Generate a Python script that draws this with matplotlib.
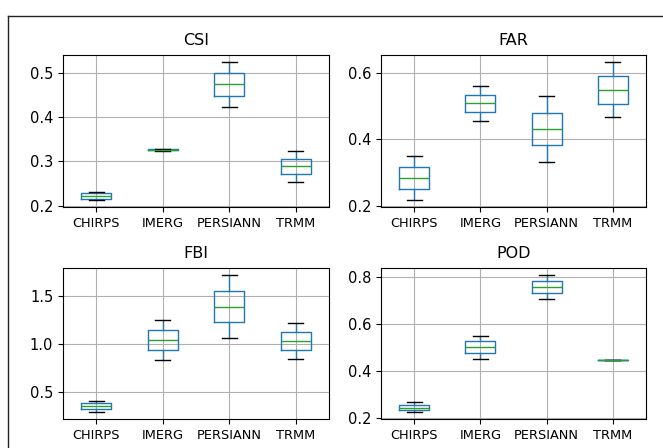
import matplotlib
matplotlib.use("Agg")
import matplotlib.pyplot as plt
from matplotlib.lines import Line2D
from matplotlib.ticker import MultipleLocator

products = ["CHIRPS", "IMERG", "PERSIANN", "TRMM"]
metrics = ["CSI", "FAR", "FBI", "POD"]

# five-number summaries per metric: [CHIRPS, IMERG, PERSIANN, TRMM]
csi_whislo = [0.213, 0.324, 0.4235, 0.254]
csi_q1 = [0.216, 0.325, 0.448, 0.272]
csi_med = [0.2225, 0.326, 0.474, 0.290]
csi_q3 = [0.229, 0.327, 0.499, 0.306]
csi_whishi = [0.232, 0.329, 0.524, 0.324]

far_whislo = [0.218, 0.456, 0.333, 0.466]
far_q1 = [0.251, 0.483, 0.383, 0.507]
far_med = [0.285, 0.509, 0.432, 0.549]
far_q3 = [0.318, 0.534, 0.480, 0.590]
far_whishi = [0.351, 0.560, 0.530, 0.632]

fbi_whislo = [0.289, 0.837, 1.069, 0.848]
fbi_q1 = [0.317, 0.938, 1.230, 0.941]
fbi_med = [0.348, 1.048, 1.393, 1.038]
fbi_q3 = [0.382, 1.152, 1.559, 1.131]
fbi_whishi = [0.410, 1.256, 1.725, 1.225]

pod_whislo = [0.227, 0.454, 0.709, 0.449]
pod_q1 = [0.236, 0.477, 0.734, 0.449]
pod_med = [0.246, 0.503, 0.759, 0.449]
pod_q3 = [0.259, 0.528, 0.783, 0.449]
pod_whishi = [0.269, 0.550, 0.810, 0.449]

summaries = {
    "CSI": (csi_whislo, csi_q1, csi_med, csi_q3, csi_whishi),
    "FAR": (far_whislo, far_q1, far_med, far_q3, far_whishi),
    "FBI": (fbi_whislo, fbi_q1, fbi_med, fbi_q3, fbi_whishi),
    "POD": (pod_whislo, pod_q1, pod_med, pod_q3, pod_whishi),
}
ytick_step = {"CSI": 0.1, "FAR": 0.2, "FBI": 0.5, "POD": 0.2}

W, H = 663, 448
fig = plt.figure(figsize=(W / 100, H / 100), dpi=100)

# axes rectangles in pixels: left, top, right, bottom
rects = {
    "CSI": (63, 55, 329, 207),
    "FAR": (381, 55, 646, 207),
    "FBI": (63, 268, 329, 419),
    "POD": (381, 268, 646, 419),
}

for m in metrics:
    l, t, r, b = rects[m]
    ax = fig.add_axes([l / W, 1 - b / H, (r - l) / W, (b - t) / H])
    lo, q1, med, q3, hi = summaries[m]
    stats = []
    for i, p in enumerate(products):
        stats.append(dict(label=p, whislo=lo[i], q1=q1[i], med=med[i],
                          q3=q3[i], whishi=hi[i], fliers=[]))
    ax.bxp(stats, showfliers=False,
           boxprops=dict(color="C0", linewidth=1.0),
           whiskerprops=dict(color="C0", linewidth=1.0),
           capprops=dict(color="k", linewidth=1.0),
           medianprops=dict(color="C2", linewidth=1.0, zorder=5))
    ax.yaxis.set_major_locator(MultipleLocator(ytick_step[m]))
    ax.grid(True, color="#b0b0b0", linewidth=0.8)
    ax.set_axisbelow(True)
    ax.set_title(m, fontsize=11.5, pad=7)
    ax.tick_params(axis="x", labelsize=9.3)
    ax.tick_params(axis="y", labelsize=10.5)

# figure border (partially cropped frame)
fig.add_artist(Line2D([8 / W, 8 / W], [0, 1 - 16 / H], transform=fig.transFigure,
                      color="#222222", linewidth=1.0))
fig.add_artist(Line2D([8 / W, 1], [1 - 16 / H, 1 - 16 / H], transform=fig.transFigure,
                      color="#222222", linewidth=1.0))

fig.savefig("out.png", dpi=100)
